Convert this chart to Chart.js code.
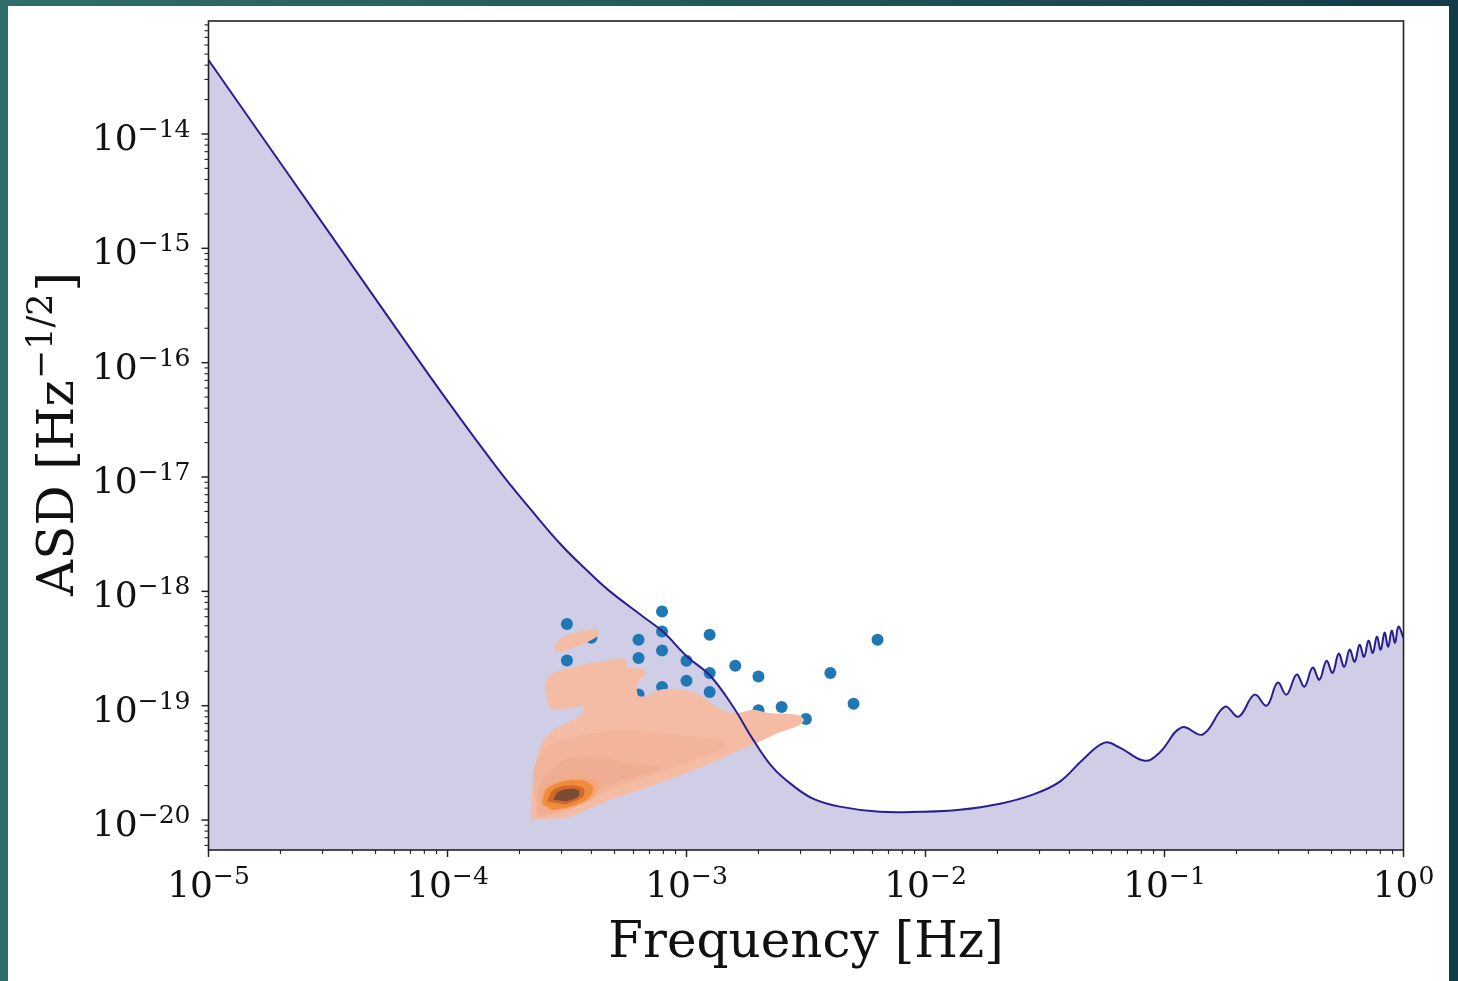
<!DOCTYPE html>
<html>
<head>
<meta charset="utf-8">
<script src="https://cdn.jsdelivr.net/npm/chart.js@4.4.1/dist/chart.umd.min.js"></script>
<style>
  html, body { margin: 0; padding: 0; }
  body {
    width: 1458px; height: 981px; position: relative; overflow: hidden;
    background: linear-gradient(90deg, #2f6e6a 0%, #245a5c 45%, #133a49 100%);
  }
  #sheet { position: absolute; left: 8px; top: 6px; width: 1441px; height: 975px; background: #fff; }
  #chart { position: absolute; left: 0; top: 0; }
</style>
</head>
<body>
<div id="sheet"></div>
<canvas id="chart" width="1458" height="981"></canvas>
<script>
// Sensitivity curve (ASD vs frequency)
const freq = [1e-5, 2.0e-5, 5.24e-5, 1.0e-4, 1.66e-4, 2.22e-4, 2.96e-4, 3.77e-4, 4.70e-4, 6.59e-4,
  7.98e-4, 1.007e-3, 1.256e-3, 1.567e-3, 1.90e-3, 2.30e-3, 2.79e-3, 3.38e-3, 4.38e-3, 6.44e-3,
  9.48e-3, 1.39e-2, 2.05e-2, 2.81e-2, 3.65e-2, 4.55e-2, 5.62e-2, 6.50e-2, 8.26e-2, 9.55e-2,
  0.118, 0.1445, 0.179, 0.204, 0.238, 0.2675, 0.2975, 0.324, 0.357, 0.385,
  0.4165, 0.445, 0.476, 0.505, 0.5355, 0.565, 0.595, 0.625, 0.6545, 0.684,
  0.714, 0.744, 0.7735, 0.803, 0.833, 0.863, 0.8925, 0.922, 0.952, 1.0];
const asd = [4.43e-14, 5.58e-15, 3.14e-16, 4.63e-17, 1.11e-17, 5.27e-18, 2.61e-18, 1.576e-18, 1.03e-18, 6.0e-19,
  4.43e-19, 2.68e-19, 1.829e-19, 9.8e-20, 5.05e-20, 2.87e-20, 2.00e-20, 1.54e-20, 1.31e-20, 1.18e-20,
  1.18e-20, 1.23e-20, 1.39e-20, 1.67e-20, 2.17e-20, 3.37e-20, 4.75e-20, 4.30e-20, 3.30e-20, 3.90e-20,
  6.46e-20, 5.60e-20, 9.80e-20, 8.01e-20, 1.25e-19, 1.0e-19, 1.59e-19, 1.25e-19, 1.87e-19, 1.47e-19,
  2.15e-19, 1.69e-19, 2.47e-19, 1.94e-19, 2.85e-19, 2.19e-19, 3.09e-19, 2.43e-19, 3.41e-19, 2.68e-19,
  3.70e-19, 2.90e-19, 4.01e-19, 3.09e-19, 4.35e-19, 3.28e-19, 4.53e-19, 3.56e-19, 4.91e-19, 3.93e-19];

// Sources (blue dots)
const srcFreq = [3.16e-4, 3.16e-4, 4.0e-4, 6.3e-4, 6.3e-4, 6.3e-4, 7.9e-4, 7.9e-4, 7.9e-4, 7.9e-4,
  1.0e-3, 1.0e-3, 1.25e-3, 1.25e-3, 1.25e-3, 1.6e-3, 2.0e-3, 2.0e-3, 2.5e-3, 3.16e-3, 4.0e-3, 5.0e-3, 6.3e-3];
const srcAsd = [5.18e-19, 2.49e-19, 3.93e-19, 3.77e-19, 2.61e-19, 1.25e-19, 6.67e-19, 4.46e-19, 3.04e-19, 1.46e-19,
  2.47e-19, 1.65e-19, 4.18e-19, 1.93e-19, 1.32e-19, 2.24e-19, 1.80e-19, 9.14e-20, 9.75e-20, 7.66e-20, 1.93e-19, 1.04e-19, 3.77e-19];

// KDE contour outlines (outermost to innermost)
const kdeOuterF = [2.219e-4, 2.256e-4, 2.328e-4, 2.483e-4, 2.777e-4, 3.262e-4, 3.650e-4, 3.707e-4, 3.262e-4, 2.734e-4,
  2.606e-4, 2.564e-4, 2.690e-4, 3.057e-4, 3.830e-4, 4.643e-4, 5.537e-4, 5.660e-4, 6.503e-4, 6.823e-4,
  6.397e-4, 6.197e-4, 6.293e-4, 6.823e-4, 7.753e-4, 9.11e-4, 1.069e-3, 1.216e-3, 1.382e-3, 1.623e-3,
  1.904e-3, 2.200e-3, 2.626e-3, 2.984e-3, 3.101e-3, 2.891e-3, 2.461e-3, 2.031e-3, 1.623e-3, 1.216e-3,
  8.81e-4, 6.397e-4, 4.793e-4, 3.830e-4, 3.160e-4];
const kdeOuterA = [1.008e-20, 1.726e-20, 2.944e-20, 4.72e-20, 6.17e-20, 7.29e-20, 8.51e-20, 9.86e-20, 9.55e-20, 9.35e-20,
  1.205e-19, 1.527e-19, 1.866e-19, 2.065e-19, 2.328e-19, 2.489e-19, 2.559e-19, 2.178e-19, 2.094e-19, 1.905e-19,
  1.710e-19, 1.475e-19, 1.222e-19, 1.222e-19, 1.380e-19, 1.400e-19, 1.306e-19, 1.128e-19, 9.35e-20, 8.63e-20,
  9.23e-20, 8.63e-20, 8.51e-20, 8.18e-20, 7.43e-20, 6.59e-20, 5.85e-20, 4.88e-20, 3.98e-20, 3.05e-20,
  2.33e-20, 1.845e-20, 1.508e-20, 1.233e-20, 1.042e-20];
const kdeBlobF = [2.823e-4, 3.057e-4, 3.590e-4, 4.217e-4, 4.282e-4, 4.019e-4, 3.478e-4, 2.962e-4, 2.777e-4];
const kdeBlobA = [3.41e-19, 4.04e-19, 4.46e-19, 4.68e-19, 4.18e-19, 3.77e-19, 3.30e-19, 2.98e-19, 3.09e-19];
const kdeMidF = [2.367e-4, 2.291e-4, 2.606e-4, 3.057e-4, 4.081e-4, 5.627e-4, 7.753e-4, 1.069e-3, 1.382e-3, 1.474e-3,
  1.003e-3, 6.823e-4, 4.493e-4, 3.262e-4, 2.443e-4];
const kdeMidA = [1.076e-20, 2.76e-20, 4.41e-20, 5.05e-20, 5.77e-20, 6.17e-20, 5.77e-20, 5.39e-20, 5.05e-20, 4.41e-20,
  3.15e-20, 2.41e-20, 1.726e-20, 1.233e-20, 1.042e-20];
const kdeInnerF = [2.367e-4, 2.404e-4, 2.690e-4, 3.262e-4, 4.217e-4, 5.627e-4, 7.753e-4, 5.278e-4, 3.830e-4, 2.962e-4, 2.443e-4];
const kdeInnerA = [1.153e-20, 1.845e-20, 2.76e-20, 3.49e-20, 3.61e-20, 3.15e-20, 2.85e-20, 2.18e-20, 1.61e-20, 1.233e-20, 1.064e-20];
const kdeRingF = [2.443e-4, 2.522e-4, 2.870e-4, 3.478e-4, 4.148e-4, 4.282e-4, 3.954e-4, 3.262e-4, 2.690e-4];
const kdeRingA = [1.41e-20, 1.845e-20, 2.18e-20, 2.33e-20, 2.18e-20, 1.845e-20, 1.508e-20, 1.276e-20, 1.191e-20];
const kdeOrangeF = [2.49e-4, 2.588e-4, 3.019e-4, 3.731e-4, 4.07e-4, 3.879e-4, 3.262e-4, 2.742e-4];
const kdeOrangeA = [1.391e-20, 1.845e-20, 2.166e-20, 2.21e-20, 1.92e-20, 1.538e-20, 1.31e-20, 1.233e-20];
const kdeDarkF = [2.614e-4, 2.742e-4, 3.138e-4, 3.695e-4, 3.695e-4, 3.138e-4];
const kdeDarkA = [1.449e-20, 1.807e-20, 2.00e-20, 1.92e-20, 1.60e-20, 1.363e-20];
const kdeCoreF = [2.769e-4, 2.905e-4, 3.262e-4, 3.556e-4, 3.522e-4, 3.138e-4];
const kdeCoreA = [1.508e-20, 1.77e-20, 1.88e-20, 1.807e-20, 1.60e-20, 1.449e-20];

// Axes
const xMin = 1e-5, xMax = 1;
const yMin = 5.47e-21, yMax = 9.73e-14;
const xTickValues = [1e-5, 1e-4, 1e-3, 1e-2, 1e-1, 1];
const xTickLabels = ['10^\u22125', '10^\u22124', '10^\u22123', '10^\u22122', '10^\u22121', '10^0'];
const yTickValues = [1e-20, 1e-19, 1e-18, 1e-17, 1e-16, 1e-15, 1e-14];
const yTickLabels = ['10^\u221220', '10^\u221219', '10^\u221218', '10^\u221217', '10^\u221216', '10^\u221215', '10^\u221214'];

const SERIF = '"DejaVu Serif", serif';

function pts(xs, ys) {
  return xs.map((x, i) => ({ x: x, y: ys[i] }));
}

function kde(xs, ys, color, order) {
  return {
    type: 'line', data: pts(xs, ys), order: order,
    borderWidth: 0, pointRadius: 0, tension: 0.3,
    fill: 'shape', backgroundColor: color, borderColor: color
  };
}

// draws "10^exp" like mathtext
function drawPow(ctx, text, x, y, align, size) {
  const parts = text.split('^');
  const small = Math.round(size * 0.7);
  ctx.font = size + 'px ' + SERIF;
  const wb = ctx.measureText(parts[0]).width;
  ctx.font = small + 'px ' + SERIF;
  const we = ctx.measureText(parts[1]).width;
  const total = wb + we;
  const start = align === 'center' ? x - total / 2 : (align === 'right' ? x - total : x);
  ctx.textAlign = 'left';
  ctx.textBaseline = 'alphabetic';
  ctx.font = size + 'px ' + SERIF;
  ctx.fillText(parts[0], start, y);
  ctx.font = small + 'px ' + SERIF;
  ctx.fillText(parts[1], start + wb, y - size * 0.36);
}

const axisDecor = {
  id: 'axisDecor',
  afterDraw(chart) {
    const ctx = chart.ctx;
    const a = chart.chartArea;
    const xs = chart.scales.x, ys = chart.scales.y;
    ctx.save();
    ctx.fillStyle = '#111';
    ctx.strokeStyle = '#222';

    // minor + major ticks
    for (let e = -5; e <= 0; e++) {
      for (let m = 1; m <= 9; m++) {
        const v = m * Math.pow(10, e);
        if (v < xMin * 0.999 || v > xMax * 1.001) continue;
        const px = xs.getPixelForValue(v);
        const len = m === 1 ? 7 : 4;
        ctx.lineWidth = m === 1 ? 1.5 : 1.1;
        ctx.beginPath(); ctx.moveTo(px, a.bottom); ctx.lineTo(px, a.bottom + len); ctx.stroke();
      }
    }
    for (let e = -21; e <= -13; e++) {
      for (let m = 1; m <= 9; m++) {
        const v = m * Math.pow(10, e);
        if (v < yMin || v > yMax) continue;
        const py = ys.getPixelForValue(v);
        const len = m === 1 ? 7 : 4;
        ctx.lineWidth = m === 1 ? 1.5 : 1.1;
        ctx.beginPath(); ctx.moveTo(a.left, py); ctx.lineTo(a.left - len, py); ctx.stroke();
      }
    }

    // frame
    ctx.lineWidth = 1.6;
    ctx.strokeRect(a.left, a.top, a.right - a.left, a.bottom - a.top);

    // tick labels
    xTickValues.forEach((v, i) => {
      drawPow(ctx, xTickLabels[i], xs.getPixelForValue(v), a.bottom + 47, 'center', 36);
    });
    yTickValues.forEach((v, i) => {
      drawPow(ctx, yTickLabels[i], a.left - 18, ys.getPixelForValue(v) + 16, 'right', 36);
    });

    // axis titles
    ctx.font = '50px ' + SERIF;
    ctx.textAlign = 'center';
    ctx.textBaseline = 'alphabetic';
    ctx.fillText('Frequency [Hz]', (a.left + a.right) / 2, 957);

    ctx.translate(73, (a.top + a.bottom) / 2);
    ctx.rotate(-Math.PI / 2);
    const big = 50, sm = 35;
    ctx.font = big + 'px ' + SERIF;
    const w1 = ctx.measureText('ASD [Hz').width;
    const w3 = ctx.measureText(']').width;
    ctx.font = sm + 'px ' + SERIF;
    const w2 = ctx.measureText('\u22121/2').width;
    let sx = -(w1 + w2 + w3) / 2;
    ctx.textAlign = 'left';
    ctx.font = big + 'px ' + SERIF;
    ctx.fillText('ASD [Hz', sx, 0);
    ctx.font = sm + 'px ' + SERIF;
    ctx.fillText('\u22121/2', sx + w1 + 1, -big * 0.42);
    ctx.font = big + 'px ' + SERIF;
    ctx.fillText(']', sx + w1 + w2 + 3, 0);
    ctx.restore();
  }
};

const curve = pts(freq, asd);

new Chart(document.getElementById('chart'), {
  type: 'line',
  data: {
    datasets: [
      {
        // shaded area below the curve
        data: curve, order: 100, borderWidth: 0, pointRadius: 0, tension: 0.4,
        fill: 'start', backgroundColor: '#cfcee6', borderColor: 'rgba(0,0,0,0)'
      },
      {
        type: 'scatter', data: pts(srcFreq, srcAsd), order: 90,
        pointRadius: 6, pointBorderWidth: 0,
        backgroundColor: '#1f77b4', borderColor: '#1f77b4'
      },
      kde(kdeOuterF, kdeOuterA, '#f4bca4', 80),
      kde(kdeBlobF, kdeBlobA, '#f4bca4', 79),
      kde(kdeMidF, kdeMidA, '#f2b59b', 70),
      kde(kdeInnerF, kdeInnerA, '#efad91', 60),
      kde(kdeRingF, kdeRingA, '#f6a774', 50),
      kde(kdeOrangeF, kdeOrangeA, '#f08b3b', 40),
      kde(kdeDarkF, kdeDarkA, '#cf6a28', 30),
      kde(kdeCoreF, kdeCoreA, '#7d4a33', 20),
      {
        // the curve itself
        data: curve, order: 0, borderWidth: 2, pointRadius: 0, tension: 0.4,
        fill: false, borderColor: '#2a1f8e'
      }
    ]
  },
  options: {
    responsive: false,
    animation: false,
    events: [],
    layout: { padding: { left: 0, right: 54.5, top: 21, bottom: 0 } },
    plugins: { legend: { display: false }, tooltip: { enabled: false } },
    scales: {
      x: {
        type: 'logarithmic', min: xMin, max: xMax,
        grid: { display: false, drawTicks: false },
        border: { display: false },
        ticks: { display: false },
        afterFit: (scale) => { scale.height = 131; }
      },
      y: {
        type: 'logarithmic', min: yMin, max: yMax,
        grid: { display: false, drawTicks: false },
        border: { display: false },
        ticks: { display: false },
        afterFit: (scale) => { scale.width = 208.5; }
      }
    }
  },
  plugins: [axisDecor]
});
</script>
</body>
</html>
